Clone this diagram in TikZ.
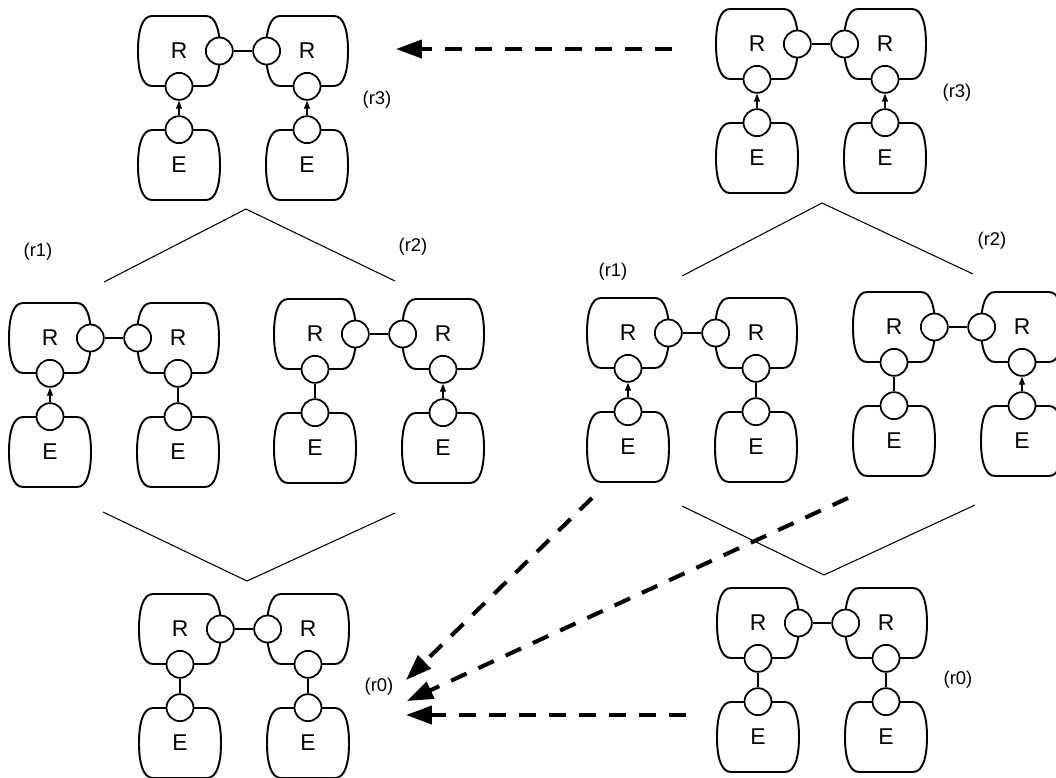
\documentclass[tikz,border=0pt]{standalone}
\usepackage{fontspec}
\setmainfont{Liberation Sans}
\usetikzlibrary{arrows.meta}

\begin{document}
\begin{tikzpicture}[x=0.02cm, y=-0.02cm, >={Triangle[length=1.6mm, width=1.2mm]},
        unit/.style={minimum width=1.6cm, minimum height=1.4cm, inner sep=0pt, font=\fontsize{13}{15}\selectfont},
        port/.style={circle, draw, fill=white, line width=1pt, minimum size=0.54cm, inner sep=0pt},
        link/.style={line width=0.6pt},
        up/.style={link, ->},
        flat/.style={link},
        tag/.style={font=\fontsize{10.5}{12}\selectfont},
        move/.style={line width=2.3pt, dash pattern=on 0.34cm off 0.26cm, -{Triangle[length=5.2mm, width=3.6mm]}},
        blob/.pic={\draw[line width=1.1pt] (-27,-35) -- (27,-35) .. controls (37,-35) and (41,-20) .. (41,0)
            .. controls (41,20) and (37,35) .. (27,35) -- (-27,35) .. controls (-37,35) and (-41,20) .. (-41,0)
            .. controls (-41,-20) and (-37,-35) .. (-27,-35) -- cycle;}]

        \useasboundingbox (0,0) rectangle (1056,778);
        \clip (0,0) rectangle (1056,778);

        % Components: two R over two E per stage
        \foreach \g/\x/\y/\sa/\sb in {a/179/51/up/up, b/757/44/up/up, c/50/338/up/flat, d/315/334/flat/up,
                e/628/333/up/flat, f/894/327/flat/up, g/180/629/flat/flat, h/758/623/flat/flat} {
            \node[unit] (\g1) at (\x,\y) {R};
            \node[unit] (\g2) at (\x+128,\y) {R};
            \node[unit] (\g3) at (\x,\y+114) {E};
            \node[unit] (\g4) at (\x+128,\y+114) {E};
            \foreach \n in {1,2,3,4}
                \pic at (\g\n) {blob};
            \node[port] (\g1e) at (\g1.east) {};
            \node[port] (\g1s) at (\g1.south) {};
            \node[port] (\g2w) at (\g2.west) {};
            \node[port] (\g2s) at (\g2.south) {};
            \node[port] (\g3n) at (\g3.north) {};
            \node[port] (\g4n) at (\g4.north) {};
            \draw[link] (\g1e) -- (\g2w);
            \draw[\sa] (\g3n) -- (\g1s);
            \draw[\sb] (\g4n) -- (\g2s);
        }

        % Stage labels
        \node[tag] (ta) at (377,100) {(r3)};
        \node[tag] (tb) at (957,93) {(r3)};
        \node[tag] (tc) at (38,252) {(r1)};
        \node[tag] (td) at (413,247) {(r2)};
        \node[tag] (te) at (613,272) {(r1)};
        \node[tag] (tf) at (992,241) {(r2)};
        \node[tag] (tg) at (379,687) {(r0)};
        \node[tag] (th) at (958,680) {(r0)};

        % Lattice lines
        \draw[link] (104,282) -- (246,209) -- (395,281);
        \draw[link] (103,512) -- (247,581) -- (395,513);
        \draw[link] (682,276) -- (822,203) -- (973,274);
        \draw[link] (682,506) -- (824,575) -- (975,505);

        % Dashed moves
        \coordinate (s0) at (672,49);  \coordinate (e0) at (396,49);
        \coordinate (s1) at (592,498); \coordinate (e1) at (406,680);
        \coordinate (s2) at (848,498); \coordinate (e2) at (407,701);
        \coordinate (s3) at (686,715); \coordinate (e3) at (406,715);
        \foreach \i in {0,...,3}
            \draw[move] (s\i) -- (e\i);
    \end{tikzpicture}
\end{document}
